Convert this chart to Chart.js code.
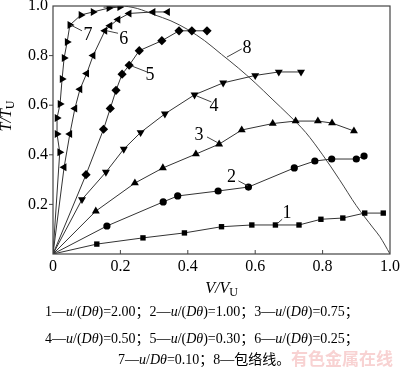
<!DOCTYPE html>
<html>
<head>
<meta charset="utf-8">
<script src="https://cdn.jsdelivr.net/npm/chart.js@4.4.0/dist/chart.umd.min.js"></script>
<style>
  body { margin: 0; background: #fff; }
  #wrap { position: relative; width: 400px; height: 373px; }
  .cap {
    position: absolute;
    font-family: 'Liberation Serif', 'Noto Sans CJK SC', serif;
    font-size: 14px;
    line-height: 18px;
    white-space: nowrap;
    color: #000;
  }
  .wm {
    position: absolute;
    font-family: 'Noto Sans CJK SC', sans-serif;
    font-size: 17px;
    font-weight: bold;
    color: #f8d2d2;
    white-space: nowrap;
  }
</style>
</head>
<body>
<div id="wrap">
  <canvas id="chart" width="400" height="373"></canvas>
  <div class="cap" style="left:45px;top:303px">1—<i>u</i>/(<i>Dθ</i>)=2.00；2—<i>u</i>/(<i>Dθ</i>)=1.00；3—<i>u</i>/(<i>Dθ</i>)=0.75；</div>
  <div class="cap" style="left:45px;top:330px">4—<i>u</i>/(<i>Dθ</i>)=0.50；5—<i>u</i>/(<i>Dθ</i>)=0.30；6—<i>u</i>/(<i>Dθ</i>)=0.25；</div>
  <div class="cap" style="left:118px;top:351px">7—<i>u</i>/<i>Dθ</i>=0.10；8—包络线。</div>
  <div class="wm" style="left:291px;top:345px">有色金属在线</div>
</div>
<script>
// V/VU and T/TU, one pair of arrays per curve
const curve1V = [0, 0.13, 0.267, 0.39, 0.50, 0.59, 0.66, 0.73, 0.795, 0.86, 0.925, 0.98];
const curve1T = [0, 0.04, 0.065, 0.085, 0.11, 0.117, 0.117, 0.117, 0.14, 0.145, 0.165, 0.165];

const curve2V = [0, 0.16, 0.327, 0.37, 0.49, 0.58, 0.716, 0.777, 0.827, 0.9, 0.923];
const curve2T = [0, 0.113, 0.21, 0.234, 0.254, 0.27, 0.347, 0.375, 0.383, 0.383, 0.395];

const curve3V = [0, 0.127, 0.243, 0.326, 0.424, 0.493, 0.56, 0.652, 0.72, 0.786, 0.828, 0.893];
const curve3T = [0, 0.173, 0.286, 0.347, 0.403, 0.443, 0.5, 0.526, 0.536, 0.536, 0.528, 0.496];

const curve4V = [0, 0.086, 0.157, 0.21, 0.26, 0.332, 0.42, 0.505, 0.6, 0.67, 0.736];
const curve4T = [0, 0.22, 0.33, 0.423, 0.49, 0.565, 0.642, 0.69, 0.72, 0.734, 0.734];

const curve5V = [0, 0.098, 0.15, 0.17, 0.187, 0.205, 0.226, 0.256, 0.323, 0.374, 0.412, 0.457];
const curve5T = [0, 0.32, 0.503, 0.587, 0.66, 0.725, 0.761, 0.82, 0.86, 0.9, 0.9, 0.9];

const curve6V = [0, 0.033, 0.05, 0.065, 0.08, 0.1, 0.119, 0.154, 0.169, 0.193, 0.226, 0.297, 0.34];
const curve6T = [0, 0.35, 0.484, 0.587, 0.664, 0.728, 0.8, 0.9, 0.92, 0.946, 0.97, 0.976, 0.976];

const curve7V = [0, 0.02, 0.012, 0.012, 0.021, 0.027, 0.033, 0.042, 0.05, 0.083, 0.119, 0.166, 0.198];
const curve7T = [0, 0.41, 0.484, 0.548, 0.605, 0.706, 0.79, 0.855, 0.923, 0.964, 0.976, 0.992, 0.996];

// curve 8, the envelope
const envelopeV = [0.15, 0.2, 0.25, 0.3, 0.35, 0.4, 0.45, 0.5, 0.55, 0.6, 0.65, 0.7, 0.75, 0.8, 0.85, 0.9, 0.95, 0.97, 1.0];
const envelopeT = [0.995, 1.0, 0.99, 0.965, 0.94, 0.905, 0.86, 0.805, 0.75, 0.69, 0.625, 0.56, 0.49, 0.40, 0.30, 0.195, 0.105, 0.07, 0];

const tickValues = [0, 0.2, 0.4, 0.6, 0.8, 1.0];

// number labels on the curves: text spot and leader line (in data units)
const curveLabels = [
  { text: '1', v: 0.694, t: 0.165, from: [0.68, 0.14], to: [0.665, 0.122] },
  { text: '2', v: 0.53, t: 0.31, from: [0.55, 0.295], to: [0.578, 0.275] },
  { text: '3', v: 0.433, t: 0.48, from: [0.457, 0.472], to: [0.49, 0.448] },
  { text: '4', v: 0.478, t: 0.597, from: [0.47, 0.613], to: [0.427, 0.637] },
  { text: '5', v: 0.288, t: 0.722, from: [0.279, 0.734], to: [0.234, 0.758] },
  { text: '6', v: 0.21, t: 0.867, from: [0.193, 0.89], to: [0.16, 0.9] },
  { text: '7', v: 0.104, t: 0.883, from: [0.086, 0.9], to: [0.053, 0.923] },
  { text: '8', v: 0.576, t: 0.83, from: [0.56, 0.827], to: [0.516, 0.794] }
];

function pairs(xs, ys) {
  return xs.map((x, i) => ({ x: x, y: ys[i] }));
}

const markerSize = { rect: 3.8, circle: 3.6, triangle: 4.6, rectRot: 4.6 };

function curve(xs, ys, style, rotation) {
  return {
    data: pairs(xs, ys),
    showLine: true,
    borderColor: '#333',
    borderWidth: 1,
    tension: 0,
    pointStyle: style,
    rotation: rotation,
    pointRotation: rotation,
    pointRadius: ctx => (ctx.dataIndex === 0 ? 0 : markerSize[style]),
    pointBackgroundColor: '#000',
    pointBorderColor: '#000',
    pointBorderWidth: 0
  };
}

const serif = "'Liberation Serif', 'Times New Roman', serif";

const framePlugin = {
  id: 'frame',
  afterDraw(chart) {
    const ctx = chart.ctx;
    const a = chart.chartArea;
    const xs = chart.scales.x;
    const ys = chart.scales.y;
    ctx.save();
    ctx.strokeStyle = '#444';
    ctx.lineWidth = 1.2;
    ctx.strokeRect(a.left, a.top, a.right - a.left, a.bottom - a.top);

    // inward ticks on the bottom axis, outward ticks on the left axis
    ctx.lineWidth = 1;
    ctx.beginPath();
    tickValues.slice(1, -1).forEach(v => {
      const px = xs.getPixelForValue(v);
      ctx.moveTo(px, a.bottom);
      ctx.lineTo(px, a.bottom - 4);
      const py = ys.getPixelForValue(v);
      ctx.moveTo(a.left - 4, py);
      ctx.lineTo(a.left, py);
    });
    ctx.stroke();

    // curve numbers
    ctx.fillStyle = '#000';
    ctx.font = '18px ' + serif;
    ctx.textAlign = 'center';
    ctx.textBaseline = 'middle';
    curveLabels.forEach(l => {
      ctx.fillText(l.text, xs.getPixelForValue(l.v), ys.getPixelForValue(l.t));
      ctx.beginPath();
      ctx.moveTo(xs.getPixelForValue(l.from[0]), ys.getPixelForValue(l.from[1]));
      ctx.lineTo(xs.getPixelForValue(l.to[0]), ys.getPixelForValue(l.to[1]));
      ctx.stroke();
    });

    // axis titles with subscript U
    function title(main, sub) {
      ctx.font = 'italic 16px ' + serif;
      const w1 = ctx.measureText(main).width;
      ctx.font = '12px ' + serif;
      const w2 = ctx.measureText(sub).width;
      const x0 = -(w1 + w2) / 2;
      ctx.textAlign = 'left';
      ctx.font = 'italic 16px ' + serif;
      ctx.fillText(main, x0, 0);
      ctx.font = '12px ' + serif;
      ctx.fillText(sub, x0 + w1, 4);
    }
    ctx.save();
    ctx.translate((a.left + a.right) / 2, 289);
    title('V/V', 'U');
    ctx.restore();

    ctx.save();
    ctx.translate(7, 116);
    ctx.rotate(-Math.PI / 2);
    title('T/T', 'U');
    ctx.restore();

    ctx.restore();
  }
};

new Chart(document.getElementById('chart'), {
  type: 'scatter',
  data: {
    datasets: [
      curve(curve1V, curve1T, 'rect', 0),
      curve(curve2V, curve2T, 'circle', 0),
      curve(curve3V, curve3T, 'triangle', 0),
      curve(curve4V, curve4T, 'triangle', 180),
      curve(curve5V, curve5T, 'rectRot', 0),
      curve(curve6V, curve6T, 'triangle', 270),
      curve(curve7V, curve7T, 'triangle', 90),
      {
        data: pairs(envelopeV, envelopeT),
        showLine: true,
        borderColor: '#444',
        borderWidth: 1,
        cubicInterpolationMode: 'monotone',
        pointRadius: 0
      }
    ]
  },
  options: {
    responsive: false,
    animation: false,
    layout: { padding: { left: 0, top: 6, right: 10, bottom: 79 } },
    plugins: {
      legend: { display: false },
      tooltip: { enabled: false }
    },
    scales: {
      x: {
        type: 'linear',
        min: 0,
        max: 1,
        grid: { display: false, drawTicks: false },
        border: { display: false },
        ticks: {
          stepSize: 0.2,
          padding: 3,
          color: '#000',
          font: { family: serif, size: 16 },
          callback: v => (v === 0 ? '0' : v.toFixed(1))
        },
        afterFit: s => { s.height = 40; s.paddingLeft = 0; s.paddingRight = 0; }
      },
      y: {
        type: 'linear',
        min: 0,
        max: 1,
        grid: { display: false, drawTicks: false },
        border: { display: false },
        ticks: {
          stepSize: 0.2,
          padding: 5,
          color: '#000',
          font: { family: serif, size: 16 },
          callback: v => (v === 0 ? '' : v.toFixed(1))
        },
        afterFit: s => { s.width = 53; s.paddingTop = 0; s.paddingBottom = 0; }
      }
    }
  },
  plugins: [framePlugin]
});
</script>
</body>
</html>
